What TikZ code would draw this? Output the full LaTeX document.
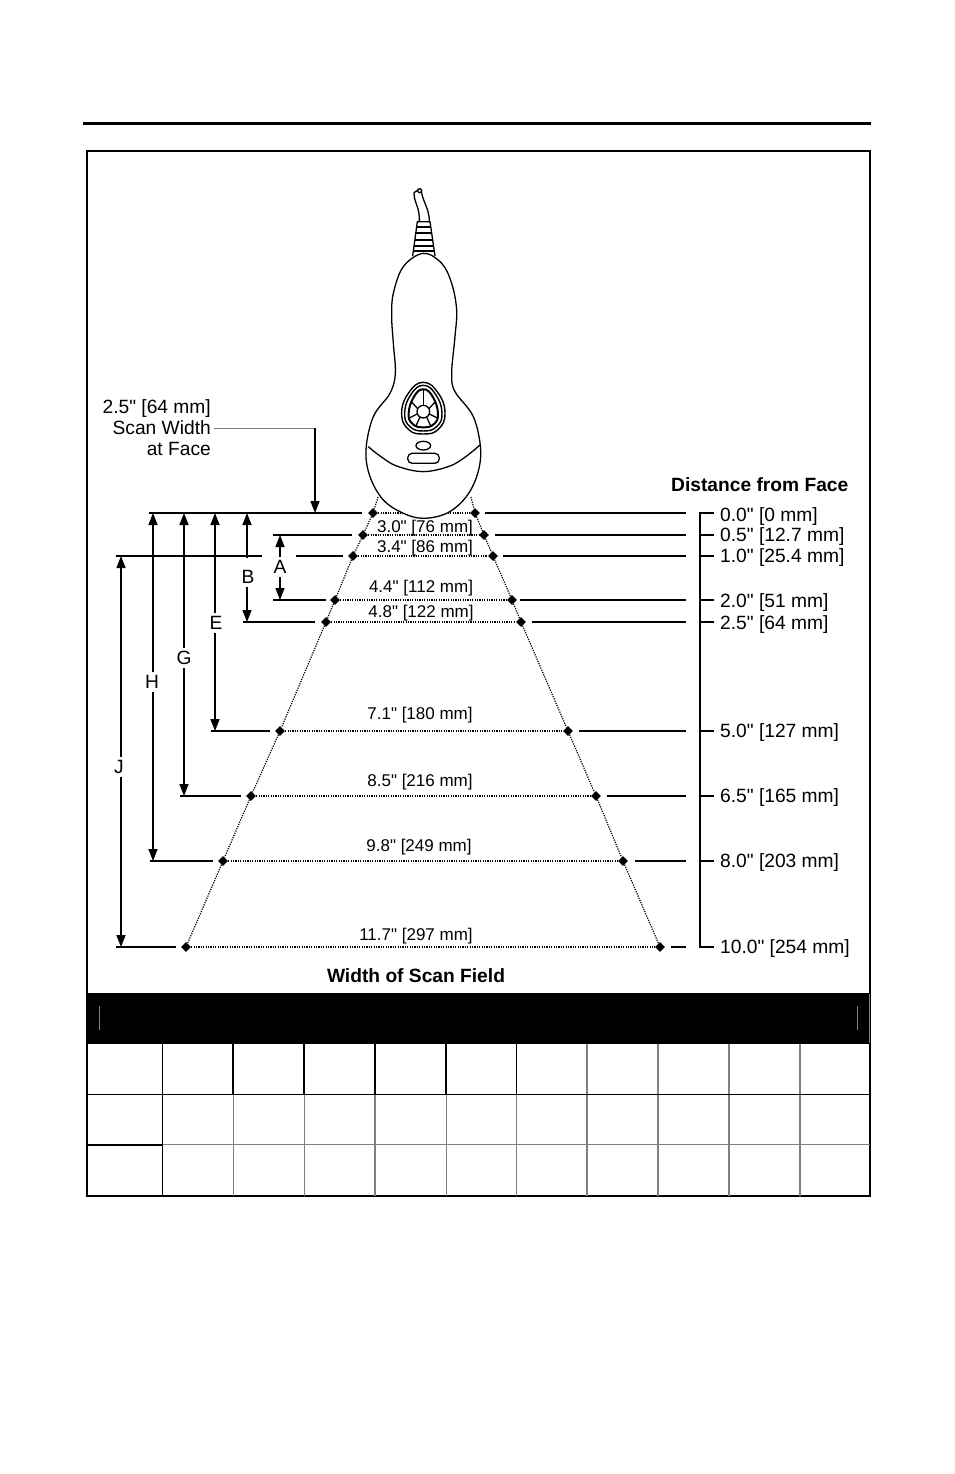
\documentclass[tikz,border=0pt]{standalone}
\usepackage{fontspec}
\newfontfamily\labelfont{Liberation Sans}
\usepackage{amsmath}
\usetikzlibrary{positioning,shapes.geometric,arrows.meta}

\begin{document}
\begin{tikzpicture}[x=1pt,y=-1pt,font=\labelfont\fontsize{19.2}{21}\selectfont]
            \tikzstyle{mark node}=[diamond,fill=black,inner sep=0,minimum size=10]
            \tikzstyle{width label}=[inner sep=0,font=\labelfont\fontsize{17}{19}\selectfont]
            \tikzstyle{dist label}=[anchor=west,inner sep=0]
            \tikzstyle{letter}=[inner sep=3]
            \tikzstyle{beam}=[line width=1.2,dash pattern=on 1.2 off 1.2]
            \tikzstyle{rule}=[line width=1.4]
            \tikzstyle{dim}=[line width=1.4,-{Triangle[length=12,width=9]}]
            \tikzstyle{body}=[line width=1.3,line join=round]
            \useasboundingbox (0,0) rectangle (954,1474);
            \fill[white] (0,0) rectangle (954,1474);
            % page rule and frame
            \draw[line width=3] (83,124) -- (871,124);
            \fill (87,992.5) rectangle (870,1044);
            \draw[line width=1.2] (87,151) rectangle (870,1196);
            \draw[line width=2] (87,151) -- (87,1196) -- (870,1196);
            \draw[gray,line width=1] (99.5,1006) -- (99.5,1030);
            \draw[gray,line width=1] (857.5,1006) -- (857.5,1030);
            \draw[gray,line width=1] (869,994) -- (869,1043);
            % table
            \draw[gray,line width=1] (162,1144.5) -- (870,1144.5);
            \draw[line width=1] (87,1094.5) -- (870,1094.5);
            \draw[line width=2] (87,1145) -- (162,1145);
            \draw[line width=1] (162.5,1044) -- (162.5,1196);
            \foreach \cx in {233,304,375,446}{
              \draw[line width=2] (\cx,1044) -- (\cx,1094);
            }
            \foreach \cx in {233.5,304.5,446}{
              \draw[gray,line width=1] (\cx,1095) -- (\cx,1196);
            }
            \draw[gray,line width=1.6] (375,1095) -- (375,1196);
            \draw[line width=1] (516.5,1044) -- (516.5,1094);
            \draw[gray,line width=1] (516.5,1095) -- (516.5,1196);
            \foreach \cx in {587,658,729,800}{
              \draw[gray,line width=2] (\cx,1044) -- (\cx,1094);
              \draw[gray,line width=2] (\cx,1095) -- (\cx,1196);
            }
            % scan field marks
            \node(la)[mark node] at (373,513){};
            \node(lb)[mark node] at (363,535){};
            \node(lc)[mark node] at (353,556){};
            \node(ld)[mark node] at (335,600){};
            \node(le)[mark node] at (326,622){};
            \node(lf)[mark node] at (280,731){};
            \node(lg)[mark node] at (251,796){};
            \node(lh)[mark node] at (223,861){};
            \node(lj)[mark node] at (186,947){};
            \node(ra)[mark node] at (475,513){};
            \node(rb)[mark node] at (484,535){};
            \node(rc)[mark node] at (493,556){};
            \node(rd)[mark node] at (512,600){};
            \node(re)[mark node] at (521,622){};
            \node(rf)[mark node] at (568,731){};
            \node(rg)[mark node] at (596,796){};
            \node(rh)[mark node] at (623,861){};
            \node(rj)[mark node] at (660,947){};
            \coordinate(lface) at (378,497);
            \coordinate(rface) at (471,497);
            \draw[beam] (lface) -- (la) -- (lb) -- (lc) -- (ld) -- (le) -- (lf) -- (lg) -- (lh) -- (lj);
            \draw[beam] (rface) -- (ra) -- (rb) -- (rc) -- (rd) -- (re) -- (rf) -- (rg) -- (rh) -- (rj);
            \draw[beam] (la) -- (ra);
            \draw[beam] (lb) -- (rb);
            \draw[beam] (lc) -- (rc);
            \draw[beam] (ld) -- (rd);
            \draw[beam] (le) -- (re);
            \draw[beam] (lf) -- (rf);
            \draw[beam] (lg) -- (rg);
            \draw[beam] (lh) -- (rh);
            \draw[beam] (lj) -- (rj);
            % scanner
            \begin{scope}[shift={(340,170)},x=0.3333pt,y=-0.3333pt]
              \draw[body,fill=white] plot[smooth cycle,tension=0.6] coordinates {(250,250) (190,290) (160,370) (155,440) (160,520) (166,610) (150,670) (100,740) (78,840) (90,920) (130,990) (190,1030) (250,1045) (320,1030) (375,985) (410,920) (422,840) (400,740) (345,665) (335,610) (345,500) (350,420) (335,340) (305,280)};
              \draw[body] (218,258) -- (232,155) -- (270,155) -- (285,258);
              \draw[line width=1.8] (228,172) -- (274,172);
              \draw[line width=1.8] (226,190) -- (276,190);
              \draw[line width=1.8] (224,210) -- (278,210);
              \draw[line width=1.8] (222,228) -- (280,228);
              \draw[line width=1.8] (220,243) -- (282,243);
              \draw[body] (238,155) .. controls (240,110) and (222,100) .. (222,68) -- (234,60);
              \draw[body] (268,155) .. controls (268,115) and (250,100) .. (244,64);
              \draw[body,fill=white] (239,62) circle (6);
              \draw[line width=1.4] plot[smooth cycle,tension=0.8] coordinates {(250,637) (205,670) (185,730) (205,778) (250,792) (295,778) (315,730) (295,670)};
              \draw[line width=1.4] plot[smooth cycle,tension=0.8] coordinates {(250,646) (212,675) (194,730) (210,770) (250,783) (290,770) (306,730) (288,675)};
              \draw[line width=2] plot[smooth cycle,tension=0.8] coordinates {(250,658) (222,680) (206,730) (218,762) (250,772) (282,762) (294,730) (278,680)};
              \draw[body] (250,725) circle (19);
              \draw[body] (250,706) -- (250,658);
              \draw[body] (233,716) -- (214,695);
              \draw[body] (267,716) -- (286,695);
              \draw[body] (232,732) -- (206,745);
              \draw[body] (268,732) -- (294,745);
              \draw[body] (240,741) -- (228,768);
              \draw[body] (260,741) -- (272,768);
              \draw[body] (250,827) ellipse (22 and 13);
              \draw[body,rounded corners=4.5] (203,850) rectangle (298,880);
              \draw[body] plot[smooth,tension=0.6] coordinates {(85,830) (120,858) (170,888) (250,905) (330,888) (380,858) (420,825)};
            \end{scope}
            % left dimension lines
            \coordinate(topa) at (149,513);
            \coordinate(topb) at (362,513);
            \coordinate(aa) at (273,535);
            \coordinate(ab) at (352,535);
            \coordinate(ja) at (116,556);
            \coordinate(jb) at (262,556);
            \coordinate(jc) at (296,556);
            \coordinate(jd) at (343,556);
            \coordinate(da) at (273,600);
            \coordinate(db) at (326,600);
            \coordinate(ea) at (243,622);
            \coordinate(eb) at (315,622);
            \coordinate(fa) at (211,731);
            \coordinate(fb) at (270,731);
            \coordinate(ga) at (180,796);
            \coordinate(gb) at (241,796);
            \coordinate(ha) at (150,861);
            \coordinate(hb) at (213,861);
            \coordinate(ka) at (116,947);
            \coordinate(kb) at (176,947);
            \draw[rule] (topa) -- (topb);
            \draw[rule] (aa) -- (ab);
            \draw[rule] (ja) -- (jb);
            \draw[rule] (jc) -- (jd);
            \draw[rule] (da) -- (db);
            \draw[rule] (ea) -- (eb);
            \draw[rule] (fa) -- (fb);
            \draw[rule] (ga) -- (gb);
            \draw[rule] (ha) -- (hb);
            \draw[rule] (ka) -- (kb);
            % letters and their arrows
            \node(A)[letter] at (280,567){A};
            \node(B)[letter] at (248,577){B};
            \node(E)[letter] at (216,623){E};
            \node(G)[letter] at (184,658){G};
            \node(H)[letter] at (152,682){H};
            \node(J)[letter] at (119,767){J};
            \draw[dim] (280,0 |- A.north) -- (280,535);
            \draw[dim] (280,0 |- A.south) -- (280,600);
            \draw[dim] (247,558) -- (247,513);
            \draw[dim] (247,0 |- B.south) -- (247,622);
            \draw[dim] (215,0 |- E.north) -- (215,513);
            \draw[dim] (215,0 |- E.south) -- (215,731);
            \draw[dim] (184,0 |- G.north) -- (184,513);
            \draw[dim] (184,0 |- G.south) -- (184,796);
            \draw[dim] (153,0 |- H.north) -- (153,513);
            \draw[dim] (153,0 |- H.south) -- (153,861);
            \draw[dim] (121,0 |- J.north) -- (121,556);
            \draw[dim] (121,0 |- J.south) -- (121,947);
            % scan width callout
            \node(scan)[align=right,anchor=east,inner sep=0,font=\labelfont\fontsize{19.2}{21}\selectfont] at (211,428){2.5" [64 mm]\\Scan Width\\at Face};
            \coordinate(bend) at (315,428);
            \draw[gray,line width=1] (214,428) -- (bend);
            \draw[dim] (bend) -- (315,513);
            % width labels
            \node(wa)[width label] at (425,528){3.0" [76 mm]};
            \node(wb)[width label] at (425,548){3.4" [86 mm]};
            \node(wd)[width label] at (421,588){4.4" [112 mm]};
            \node(we)[width label] at (421,613){4.8" [122 mm]};
            \node(wf)[width label] at (420,715){7.1" [180 mm]};
            \node(wg)[width label] at (420,782){8.5" [216 mm]};
            \node(wh)[width label] at (419,847){9.8" [249 mm]};
            \node(wj)[width label] at (416,936){11.7" [297 mm]};
            \node(width)[inner sep=0,font=\labelfont\fontsize{19.2}{21}\bfseries] at (416,976){Width of Scan Field};
            % right side
            \node(dist)[inner sep=0,anchor=west,font=\labelfont\fontsize{19.2}{21}\bfseries] at (671,485){Distance from Face};
            \node(d0)[dist label] at (720,517){0.0" [0 mm]};
            \node(d1)[dist label] at (720,537){0.5" [12.7 mm]};
            \node(d2)[dist label] at (720,558){1.0" [25.4 mm]};
            \node(d3)[dist label] at (720,603){2.0" [51 mm]};
            \node(d4)[dist label] at (720,625){2.5" [64 mm]};
            \node(d5)[dist label] at (720,733){5.0" [127 mm]};
            \node(d6)[dist label] at (720,798){6.5" [165 mm]};
            \node(d7)[dist label] at (720,863){8.0" [203 mm]};
            \node(d8)[dist label] at (720,949){10.0" [254 mm]};
            \draw[rule] (485,513) -- (686,513);
            \draw[rule] (495,535) -- (686,535);
            \draw[rule] (503,556) -- (686,556);
            \draw[rule] (520,600) -- (686,600);
            \draw[rule] (532,622) -- (686,622);
            \draw[rule] (579,731) -- (686,731);
            \draw[rule] (607,796) -- (686,796);
            \draw[rule] (635,861) -- (686,861);
            \draw[rule] (671,947) -- (686,947);
            \draw[rule] (714,513) -- (700,513) -- (700,947) -- (714,947);
            \draw[rule] (700,535) -- (714,535);
            \draw[rule] (700,556) -- (714,556);
            \draw[rule] (700,600) -- (714,600);
            \draw[rule] (700,622) -- (714,622);
            \draw[rule] (700,731) -- (714,731);
            \draw[rule] (700,796) -- (714,796);
            \draw[rule] (700,861) -- (714,861);
\end{tikzpicture}
\end{document}
